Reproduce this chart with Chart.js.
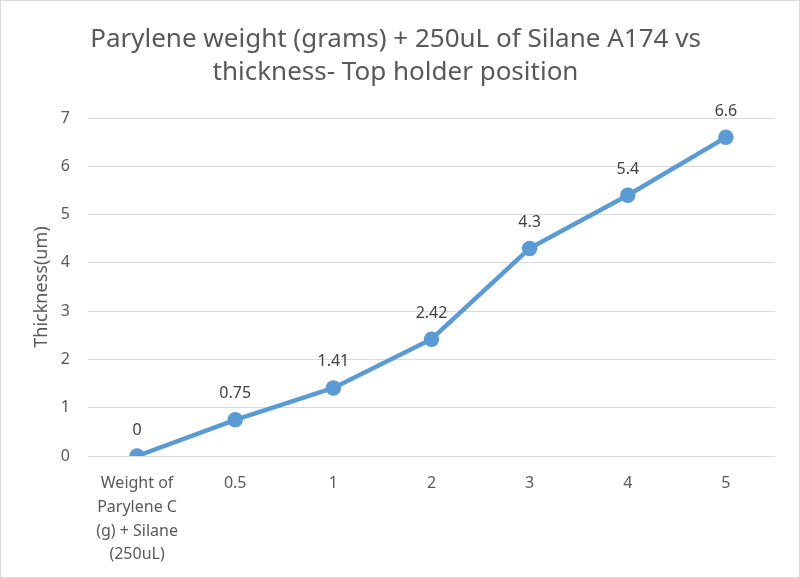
<!DOCTYPE html>
<html>
<head>
<meta charset="utf-8">
<script src="https://cdn.jsdelivr.net/npm/chart.js@4/dist/chart.umd.min.js"></script>
<style>
  html, body { margin: 0; padding: 0; background: #fff; }
  #wrap { width: 800px; height: 578px; box-sizing: border-box; border: 1px solid #d9d9d9; }
</style>
</head>
<body>
<div id="wrap"><canvas id="myChart" width="798" height="576"></canvas></div>
<script>
var categories = [
  ['Weight of', 'Parylene C', '(g) + Silane', '(250uL)'],
  '0.5', '1', '2', '3', '4', '5'
];
var thickness = [0, 0.75, 1.41, 2.42, 4.3, 5.4, 6.6];
var valueLabels = ['0', '0.75', '1.41', '2.42', '4.3', '5.4', '6.6'];
var titleLines = ['Parylene weight (grams) + 250uL of Silane A174 vs', 'thickness- Top holder position'];

// draws the value above each point
var pointLabels = {
  id: 'pointLabels',
  afterDatasetsDraw: function(chart) {
    var c = chart.ctx;
    var meta = chart.getDatasetMeta(0);
    c.save();
    c.font = '16px "Noto Sans"';
    c.fillStyle = '#404040';
    c.textAlign = 'center';
    c.textBaseline = 'middle';
    meta.data.forEach(function(pt, i) {
      c.fillText(valueLabels[i], pt.x, pt.y - 26);
    });
    c.restore();
  }
};

var ctx = document.getElementById('myChart').getContext('2d');
var myChart = new Chart(ctx, {
  type: 'line',
  data: {
    labels: categories,
    datasets: [{
      label: 'Thickness',
      data: thickness,
      borderColor: '#5B9BD5',
      backgroundColor: '#5B9BD5',
      borderWidth: 4.5,
      pointRadius: 5.5,
      pointHoverRadius: 5.5,
      fill: false,
      tension: 0
    }]
  },
  plugins: [pointLabels],
  options: {
    responsive: false,
    animation: false,
    layout: { padding: { top: 0, left: 15, right: 24, bottom: 11 } },
    plugins: {
      legend: { display: false },
      tooltip: { enabled: false },
      title: {
        display: true,
        text: titleLines,
        color: '#595959',
        font: { family: 'Noto Sans', size: 26, weight: 'normal', lineHeight: 1.27 },
        padding: { top: 22, bottom: 29 }
      }
    },
    scales: {
      x: {
        offset: true,
        afterFit: function(scale) { scale.height = 110; },
        grid: { display: false },
        border: { display: false },
        ticks: {
          color: '#595959',
          font: { family: 'Noto Sans', size: 16, lineHeight: 1.48 },
          maxRotation: 0,
          autoSkip: false,
          padding: 8
        }
      },
      y: {
        min: 0,
        max: 7,
        afterFit: function(scale) { scale.width = 72; },
        ticks: {
          stepSize: 1,
          color: '#595959',
          font: { family: 'Noto Sans', size: 16 },
          padding: 18
        },
        grid: { color: '#d9d9d9', lineWidth: 1, drawTicks: false },
        border: { display: false },
        title: {
          display: true,
          text: 'Thickness(um)',
          color: '#595959',
          font: { family: 'Noto Sans', size: 18 },
          padding: { top: 15, bottom: 0 }
        }
      }
    }
  }
});
</script>
</body>
</html>
